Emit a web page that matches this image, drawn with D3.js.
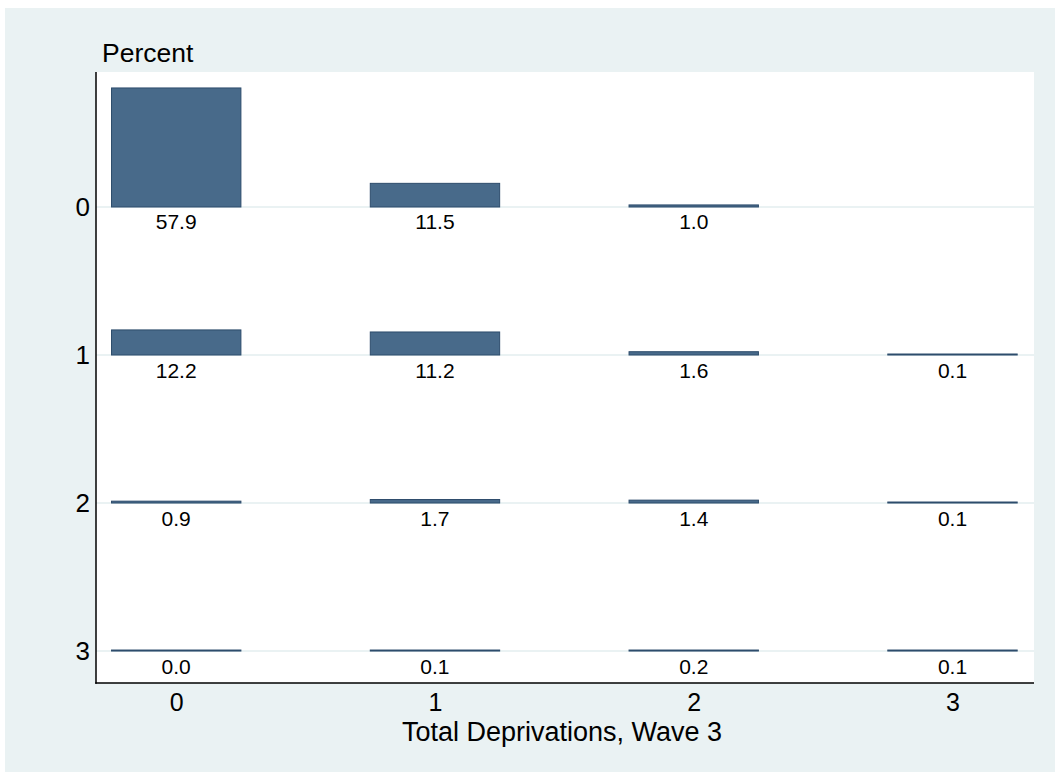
<!DOCTYPE html>
<html>
<head>
<meta charset="utf-8">
<script src="https://cdn.jsdelivr.net/npm/d3@7"></script>
<style>
  html, body { margin: 0; padding: 0; background: #ffffff; }
  svg { display: block; font-family: "Liberation Sans", Arial, sans-serif; }
</style>
</head>
<body>
<svg id="chart" width="1055" height="772"></svg>
<script>
// ---- data ----
const rowCategories = [0, 1, 2, 3];          // y-axis categories
const colCategories = [0, 1, 2, 3];          // x-axis: Total Deprivations, Wave 3
const row0Values = [57.9, 11.5, 1.0, null];
const row1Values = [12.2, 11.2, 1.6, 0.1];
const row2Values = [0.9, 1.7, 1.4, 0.1];
const row3Values = [0.0, 0.1, 0.2, 0.1];
const yTickLabels = ["0", "1", "2", "3"];
const xTickLabels = ["0", "1", "2", "3"];
const xTitle = "Total Deprivations, Wave 3";
const yTitle = "Percent";

const seriesRows = [row0Values, row1Values, row2Values, row3Values];

// ---- layout ----
const W = 1055, H = 772;
const plot = { left: 96, right: 1034, top: 72, bottom: 683 };
const svg = d3.select("#chart");

svg.append("rect").attr("x", 5).attr("y", 8).attr("width", W - 5).attr("height", H - 8)
  .attr("fill", "#EAF2F3");
svg.append("rect").attr("x", plot.left).attr("y", plot.top)
  .attr("width", plot.right - plot.left).attr("height", plot.bottom - plot.top)
  .attr("fill", "#ffffff");

const x = d3.scaleLinear().domain([-0.31, 3.315]).range([plot.left, plot.right]);
const y = d3.scaleLinear().domain([-0.912, 3.216]).range([plot.top, plot.bottom]);
// bar height: percent expressed in row units (72 percent = one row)
const h = d3.scaleLinear().domain([0, 72]).range([0, 1]);
const barWidth = 0.5;

// gridlines
svg.append("g").selectAll("line").data(rowCategories).join("line")
  .attr("x1", plot.left).attr("x2", plot.right)
  .attr("y1", d => y(d)).attr("y2", d => y(d))
  .attr("stroke", "#EAF2F3").attr("stroke-width", 2);

// bars
const cells = [];
seriesRows.forEach((vals, ri) => vals.forEach((v, ci) => {
  if (v !== null) cells.push({ row: rowCategories[ri], col: colCategories[ci], v });
}));
const barH = d => Math.max(y(d.row) - y(d.row - h(d.v)), 1);

const g = svg.append("g");
g.selectAll("rect").data(cells).join("rect")
  .attr("x", d => x(d.col - barWidth / 2))
  .attr("width", d => x(d.col + barWidth / 2) - x(d.col - barWidth / 2))
  .attr("y", d => y(d.row) - barH(d))
  .attr("height", d => barH(d))
  .attr("fill", "#486A8A")
  .attr("stroke", "#2D4C6C").attr("stroke-width", 1);

g.selectAll("text").data(cells).join("text")
  .attr("x", d => x(d.col))
  .attr("y", d => y(d.row) + 22.5)
  .attr("text-anchor", "middle")
  .attr("font-size", 21)
  .attr("fill", "#000")
  .text(d => d.v.toFixed(1));

// axes
const yAxis = d3.axisLeft(y).tickValues(rowCategories)
  .tickFormat((d, i) => yTickLabels[i]).tickSize(0).tickPadding(6);
const yg = svg.append("g").attr("transform", `translate(${plot.left},0)`).call(yAxis);
yg.select(".domain").remove();
yg.selectAll("text").attr("font-size", 26).attr("fill", "#000")
  .attr("font-family", "Liberation Sans, Arial, sans-serif");

const xAxis = d3.axisBottom(x).tickValues(colCategories)
  .tickFormat((d, i) => xTickLabels[i]).tickSize(0).tickPadding(10);
const xg = svg.append("g").attr("transform", `translate(0,${plot.bottom})`).call(xAxis);
xg.select(".domain").remove();
xg.selectAll("text").attr("font-size", 25).attr("fill", "#000")
  .attr("font-family", "Liberation Sans, Arial, sans-serif");

svg.append("line").attr("x1", plot.left).attr("x2", plot.left)
  .attr("y1", plot.top).attr("y2", plot.bottom + 0.75)
  .attr("stroke", "#000").attr("stroke-width", 1.5);
svg.append("line").attr("x1", plot.left - 0.75).attr("x2", plot.right)
  .attr("y1", plot.bottom).attr("y2", plot.bottom)
  .attr("stroke", "#000").attr("stroke-width", 1.5);

// titles
svg.append("text").attr("x", 562).attr("y", 741)
  .attr("text-anchor", "middle").attr("font-size", 27).attr("fill", "#000").text(xTitle);
svg.append("text").attr("x", 102).attr("y", 62)
  .attr("font-size", 26.5).attr("fill", "#000").text(yTitle);
</script>
</body>
</html>
